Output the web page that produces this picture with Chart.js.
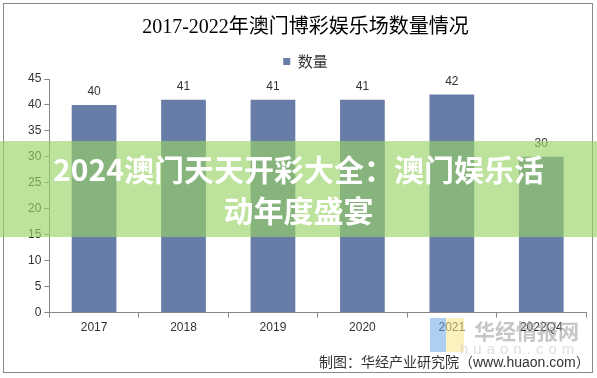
<!DOCTYPE html>
<html>
<head>
<meta charset="utf-8">
<script src="https://cdn.jsdelivr.net/npm/chart.js@4.4.1/dist/chart.umd.min.js"></script>
<style>
    body { margin: 0; background: #fff; }
    #caja { position: relative; width: 597px; height: 378px; overflow: hidden; }
    #marco { position: absolute; left: 3px; top: 3px; width: 590px; height: 370px; border: 1px solid #8a8a8a; box-sizing: border-box; }
    #franja {
        position: absolute; left: 0; top: 141px; width: 597px; height: 96px;
        background: rgba(152, 211, 101, 0.65);
        color: #fff; font-family: "Noto Sans CJK SC", sans-serif; font-weight: bold;
        font-size: 30px; line-height: 41px; text-align: center; padding-top: 7px; box-sizing: border-box;
    }
    #logo { position: absolute; left: 430px; top: 318px; width: 34px; height: 34px; }
    #logo .a { position: absolute; left: 0; top: 0; width: 16px; height: 34px; background: rgba(110, 165, 235, 0.55); }
    #logo .b { position: absolute; left: 16px; top: 0; width: 18px; height: 34px; background: rgba(250, 232, 140, 0.55); }
    #marca { position: absolute; left: 474px; top: 315px; font-family: "Noto Sans CJK SC", sans-serif; font-weight: bold; font-size: 21px; color: rgba(160, 160, 160, 0.6); }
    #web { position: absolute; left: 460px; top: 340px; font-family: "Liberation Sans", sans-serif; font-size: 15px; letter-spacing: 5px; color: rgba(200, 200, 200, 0.6); }
    #fuente { position: absolute; left: 319px; top: 351px; font-family: "Liberation Sans", "Noto Sans CJK SC", sans-serif; font-size: 14px; color: #333; }
</style>
</head>
<body>
<div id="caja">
    <canvas id="grafico" width="597" height="378"></canvas>
    <div id="marco"></div>
    <div id="logo"><div class="a"></div><div class="b"></div></div>
    <div id="marca">华经情报网</div>
    <div id="web">huaon.com</div>
    <div id="fuente">制图：华经产业研究院（www.huaon.com）</div>
    <div id="franja">2024澳门天天开彩大全：澳门娱乐活<br>动年度盛宴</div>
</div>
<script>
const anios = ['2017', '2018', '2019', '2020', '2021', '2022Q4'];
const cantidad = [40, 41, 41, 41, 42, 30];
const ticksY = [0, 5, 10, 15, 20, 25, 30, 35, 40, 45];

const colorBarra = '#687ca8';

// etiquetas de valor encima de cada barra
const etiquetas = {
    id: 'etiquetas',
    afterDatasetsDraw(chart) {
        const ctx = chart.ctx;
        const meta = chart.getDatasetMeta(0);
        ctx.save();
        ctx.font = '12px "Liberation Sans", Arial, sans-serif';
        ctx.fillStyle = '#333';
        ctx.textAlign = 'center';
        ctx.textBaseline = 'middle';
        meta.data.forEach((barra, i) => {
            ctx.fillText(cantidad[i], barra.x, barra.y - 13);
        });
        ctx.restore();
    }
};

const ctx = document.getElementById('grafico').getContext('2d');
const grafico = new Chart(ctx, {
    type: 'bar',
    data: {
        labels: anios,
        datasets: [{
            label: '数量',
            data: cantidad,
            backgroundColor: colorBarra,
            borderWidth: 0,
            categoryPercentage: 1,
            barPercentage: 0.5
        }]
    },
    options: {
        responsive: false,
        animation: false,
        layout: { padding: { left: 25, right: 11, top: 10, bottom: 40 } },
        plugins: {
            title: {
                display: true,
                text: '2017-2022年澳门博彩娱乐场数量情况',
                color: '#000',
                font: { family: '"Liberation Serif", "Noto Sans CJK SC", serif', size: 20, weight: 'normal' },
                padding: { top: 6, bottom: 4 }
            },
            legend: {
                position: 'top',
                labels: {
                    color: '#333',
                    font: { family: '"Noto Sans CJK SC", sans-serif', size: 15 },
                    usePointStyle: true,
                    pointStyle: 'rect',
                    boxWidth: 7,
                    boxHeight: 7,
                    padding: 10
                }
            },
            tooltip: { enabled: false }
        },
        scales: {
            x: {
                grid: { display: true, drawOnChartArea: false, drawTicks: true, tickLength: 5, color: '#888' },
                border: { display: true, color: '#888' },
                ticks: { color: '#333', font: { family: '"Liberation Sans", Arial, sans-serif', size: 12 }, padding: 3 }
            },
            y: {
                min: 0,
                max: 45,
                afterBuildTicks(eje) { eje.ticks = ticksY.map(v => ({ value: v })); },
                grid: { display: true, drawOnChartArea: false, drawTicks: true, tickLength: 5, color: '#888' },
                border: { display: true, color: '#888' },
                ticks: { color: '#333', font: { family: '"Liberation Sans", Arial, sans-serif', size: 12 }, padding: 3 }
            }
        }
    },
    plugins: [etiquetas]
});
</script>
</body>
</html>
